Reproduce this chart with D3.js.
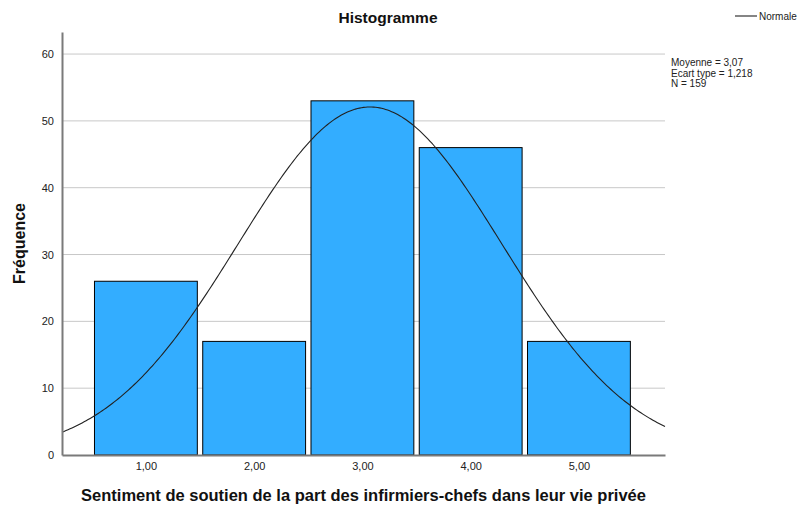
<!DOCTYPE html>
<html>
<head>
<meta charset="utf-8">
<script src="https://cdn.jsdelivr.net/npm/d3@7"></script>
<style>
  body { margin: 0; background: #fff; }
  text { font-family: "Liberation Sans", Arial, sans-serif; }
</style>
</head>
<body>
<div id="chart"></div>
<script>
// histogram data
const binCenters = [1, 2, 3, 4, 5];
const binLabels = ["1,00", "2,00", "3,00", "4,00", "5,00"];
const frequencies = [26, 17, 53, 46, 17];
const yTicks = [0, 10, 20, 30, 40, 50, 60];
const statsLines = ["Moyenne = 3,07", "Ecart type = 1,218", "N = 159"];
const mean = 3.07, sd = 1.218, n = 159;

const width = 803, height = 511;
const margin = { top: 32, right: 138, bottom: 56, left: 62 };
const innerW = width - margin.left - margin.right;
const innerH = height - margin.top - margin.bottom;

const svg = d3.select("#chart").append("svg")
  .attr("width", width)
  .attr("height", height);

const g = svg.append("g")
  .attr("transform", `translate(${margin.left},${margin.top})`);

const x = d3.scaleLinear().domain([0.225, 5.795]).range([0, innerW]);
const y = d3.scaleLinear().domain([0, 63.3]).range([innerH, 0]);

// gridlines
g.selectAll(".grid")
  .data(yTicks.filter(d => d > 0))
  .enter().append("line")
  .attr("class", "grid")
  .attr("x1", 0).attr("x2", innerW)
  .attr("y1", d => y(d)).attr("y2", d => y(d))
  .attr("stroke", "#c8c8c8")
  .attr("stroke-width", 1);

// bars
const gap = 0.025;
g.selectAll(".bar")
  .data(frequencies)
  .enter().append("rect")
  .attr("class", "bar")
  .attr("x", (d, i) => x(binCenters[i] - 0.5 + gap))
  .attr("y", d => y(d))
  .attr("width", (d, i) => x(binCenters[i] + 0.5 - gap) - x(binCenters[i] - 0.5 + gap))
  .attr("height", d => innerH - y(d))
  .attr("fill", "#33adff")
  .attr("stroke", "#000")
  .attr("stroke-width", 1);

// normal curve
const peak = n * 1 / (sd * Math.sqrt(2 * Math.PI));
const xs = d3.range(0, 301).map(i => x.domain()[0] + (x.domain()[1] - x.domain()[0]) * i / 300);
const line = d3.line()
  .x(d => x(d))
  .y(d => y(peak * Math.exp(-0.5 * ((d - mean) / sd) ** 2)));
g.append("path")
  .datum(xs)
  .attr("d", line)
  .attr("fill", "none")
  .attr("stroke", "#222")
  .attr("stroke-width", 1.1);

// axes
const yAxis = g.append("g")
  .call(d3.axisLeft(y).tickValues(yTicks).tickSize(0).tickPadding(8));
yAxis.select(".domain").attr("stroke", "#7a7a7a").attr("stroke-width", 2);
yAxis.selectAll("text").attr("font-size", 11).attr("fill", "#222")
  .attr("font-family", "Liberation Sans, Arial, sans-serif");

const xAxis = g.append("g")
  .attr("transform", `translate(0,${innerH})`)
  .call(d3.axisBottom(x).tickValues(binCenters).tickFormat((d, i) => binLabels[i]).tickSize(0).tickPadding(7));
xAxis.select(".domain").attr("stroke", "#7a7a7a").attr("stroke-width", 2);
xAxis.selectAll("text").attr("font-size", 11).attr("fill", "#222")
  .attr("font-family", "Liberation Sans, Arial, sans-serif");

// titles
svg.append("text")
  .attr("x", 388)
  .attr("y", 23)
  .attr("text-anchor", "middle")
  .attr("font-size", 15.5)
  .attr("font-weight", "bold")
  .attr("fill", "#111")
  .text("Histogramme");

svg.append("text")
  .attr("x", margin.left + innerW / 2)
  .attr("y", 501)
  .attr("text-anchor", "middle")
  .attr("font-size", 16.5)
  .attr("font-weight", "bold")
  .attr("fill", "#111")
  .text("Sentiment de soutien de la part des infirmiers-chefs dans leur vie privée");

svg.append("text")
  .attr("transform", `translate(25,${margin.top + innerH / 2}) rotate(-90)`)
  .attr("text-anchor", "middle")
  .attr("font-size", 16)
  .attr("font-weight", "bold")
  .attr("fill", "#111")
  .text("Fréquence");

// legend
svg.append("line")
  .attr("x1", 735).attr("x2", 757)
  .attr("y1", 16).attr("y2", 16)
  .attr("stroke", "#222").attr("stroke-width", 1.1);
svg.append("text")
  .attr("x", 759).attr("y", 20)
  .attr("font-size", 10)
  .attr("fill", "#222")
  .text("Normale");

// stats
svg.selectAll(".stat")
  .data(statsLines)
  .enter().append("text")
  .attr("class", "stat")
  .attr("x", 671)
  .attr("y", (d, i) => 66 + i * 10.5)
  .attr("font-size", 10)
  .attr("fill", "#222")
  .text(d => d);
</script>
</body>
</html>
